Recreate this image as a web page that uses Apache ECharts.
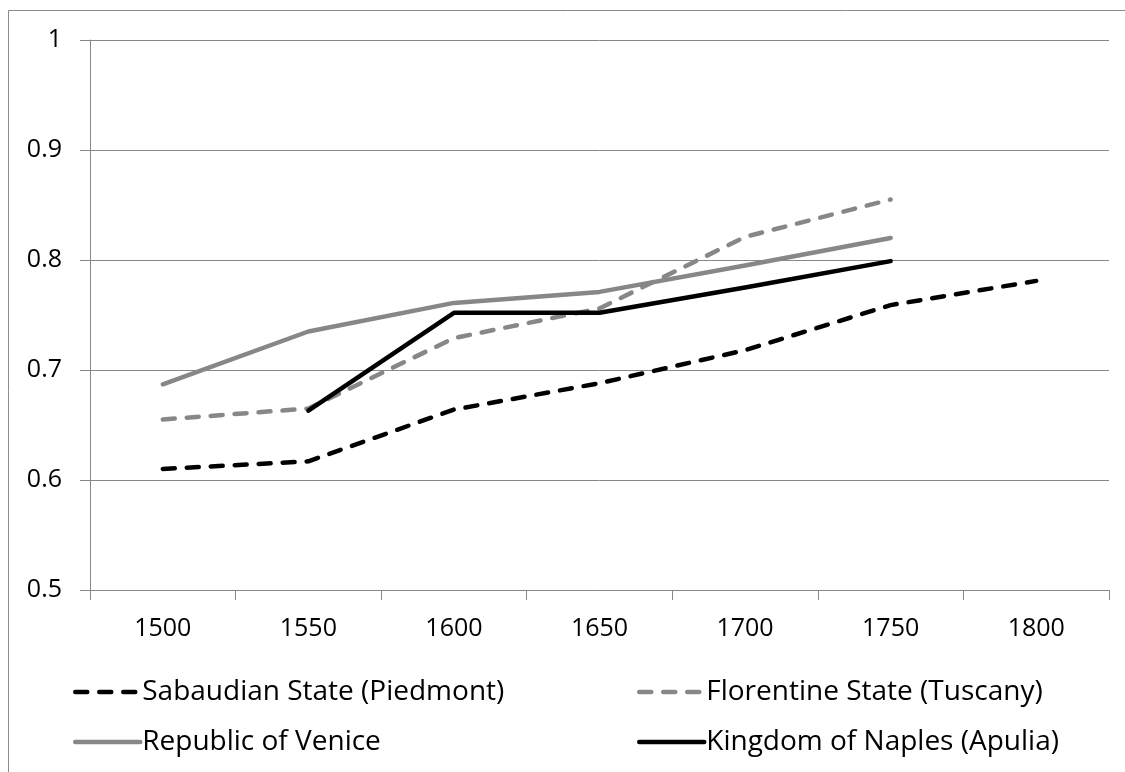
<!DOCTYPE html>
<html>
<head>
<meta charset="utf-8">
<script src="https://cdn.jsdelivr.net/npm/echarts@6/dist/echarts.min.js"></script>
<style>
html,body{margin:0;padding:0;background:#fff;}
#main{width:1125px;height:772px;}
</style>
</head>
<body>
<div id="main"></div>
<script>
var years = ['1500', '1550', '1600', '1650', '1700', '1750', '1800'];
var piedmont = [0.610, 0.617, 0.664, 0.688, 0.718, 0.759, 0.781];
var tuscany = [0.655, 0.665, 0.729, 0.756, 0.821, 0.855, null];
var venice = [0.687, 0.735, 0.761, 0.771, 0.795, 0.820, null];
var naples = [null, 0.663, 0.752, 0.752, 0.775, 0.799, null];
var names = ['Sabaudian State (Piedmont)', 'Florentine State (Tuscany)', 'Republic of Venice', 'Kingdom of Naples (Apulia)'];

var fontName = "'Open Sans', 'Noto Sans', sans-serif";
var gridGray = '#888888';

// one legend per entry so the two columns line up like in Excel
function legendAt(name, left, top) {
	return {
		data: [name],
		left: left,
		top: top,
		itemWidth: 65,
		itemHeight: 14,
		itemGap: 0,
		padding: 0,
		itemStyle: { opacity: 0 },
		lineStyle: { width: 4.5, cap: 'round' },
		textStyle: {
			fontFamily: fontName,
			fontSize: 28,
			lineHeight: 30,
			color: '#000',
			padding: [0, 0, 0, -3]
		}
	};
}

function lineSeries(name, data, color, dashed) {
	return {
		name: name,
		type: 'line',
		data: data,
		symbol: 'none',
		connectNulls: false,
		lineStyle: {
			color: color,
			width: 4.5,
			type: dashed ? [12, 12] : 'solid',
			cap: 'round',
			join: 'round'
		},
		itemStyle: {
			color: color
		}
	};
}

var option = {
	animation: false,
	backgroundColor: '#fff',
	graphic: [{
		type: 'rect',
		shape: { x: 8.5, y: 10.5, width: 1300, height: 900 },
		style: { fill: 'none', stroke: '#8a8a8a', lineWidth: 1 },
		silent: true
	}],
	legend: [
		legendAt(names[0], 73, 677),
		legendAt(names[1], 637, 677),
		legendAt(names[2], 73, 727),
		legendAt(names[3], 637, 727)
	],
	grid: {
		left: 90,
		right: 16,
		top: 40,
		bottom: 182
	},
	xAxis: {
		type: 'category',
		data: years,
		boundaryGap: true,
		axisLine: { show: true, lineStyle: { color: gridGray, width: 1 } },
		axisTick: { show: true, length: 10, lineStyle: { color: gridGray } },
		axisLabel: {
			fontFamily: fontName,
			fontSize: 25,
			color: '#000',
			margin: 26
		},
		splitLine: { show: false }
	},
	yAxis: {
		type: 'value',
		min: 0.5,
		max: 1,
		interval: 0.1,
		axisLine: { show: true, lineStyle: { color: gridGray, width: 1 } },
		axisTick: { show: true, length: 10, inside: false, lineStyle: { color: gridGray } },
		axisLabel: {
			fontFamily: fontName,
			fontSize: 25,
			color: '#000',
			margin: 28,
			formatter: function (v) { return String(Math.round(v * 10) / 10); }
		},
		splitLine: { show: true, lineStyle: { color: gridGray, width: 1 } }
	},
	series: [
		lineSeries(names[0], piedmont, '#000000', true),
		lineSeries(names[1], tuscany, '#878787', true),
		lineSeries(names[2], venice, '#878787', false),
		lineSeries(names[3], naples, '#000000', false)
	]
};

var myChart = echarts.init(document.getElementById('main'));
myChart.setOption(option);
</script>
</body>
</html>
